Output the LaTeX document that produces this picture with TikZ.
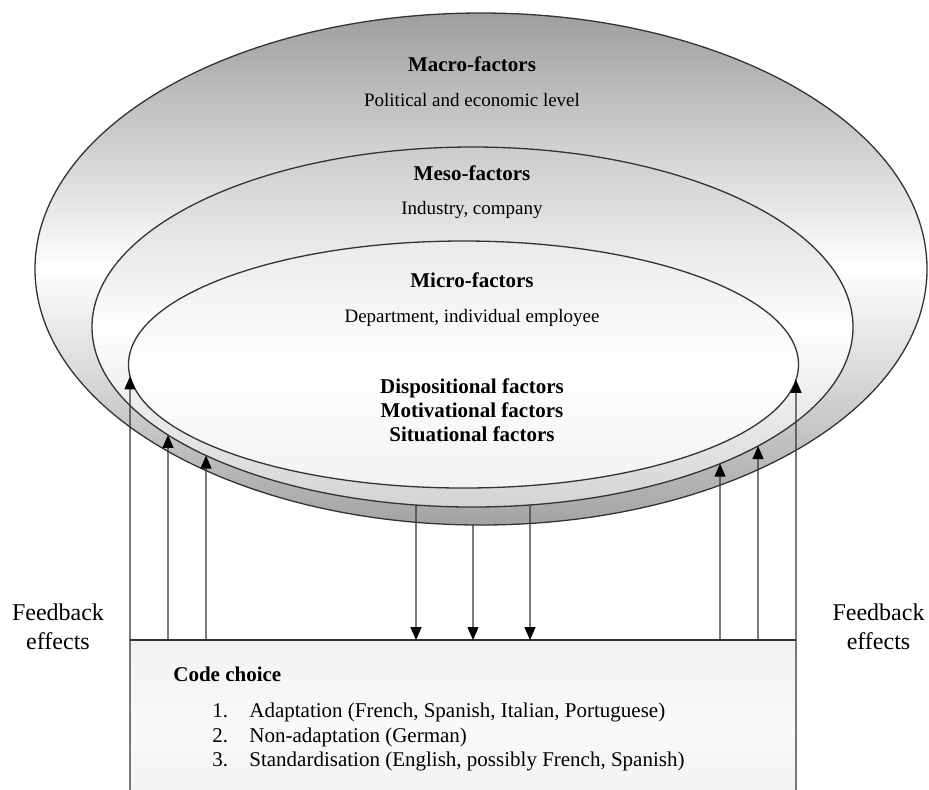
\documentclass[tikz,border=0pt]{standalone}
\usepackage{fontspec}
\setmainfont{Liberation Serif}
\usetikzlibrary{arrows.meta,intersections}

\definecolor{edge}{gray}{0.2}
\definecolor{outertone}{gray}{0.62}
\definecolor{outerlow}{gray}{0.64}
\definecolor{midtone}{gray}{0.80}
\definecolor{midlow}{gray}{0.83}
\definecolor{innertone}{gray}{0.92}
\definecolor{innerlow}{gray}{0.95}
\definecolor{boxtop}{gray}{0.95}
\definecolor{boxlow}{gray}{0.94}

\begin{document}
\begin{tikzpicture}[x=0.5pt,y=-0.5pt,
  ring/.style={draw=edge, line width=0.65pt},
  head/.style={font=\bfseries\fontsize{10.5}{12}\selectfont, anchor=base, inner sep=0pt},
  sub/.style={font=\fontsize{9.5}{11}\selectfont, anchor=base, inner sep=0pt},
  item/.style={font=\fontsize{10.5}{12}\selectfont, anchor=base west, inner sep=0pt},
  feed/.style={font=\fontsize{12}{14.5}\selectfont, align=center, anchor=base, inner sep=0pt},
  link/.style={draw=edge, line width=0.65pt, -{Triangle[length=6.5pt,width=5.5pt,color=black]}},
  codebox/.style={anchor=north west, inner sep=0pt, outer sep=0pt,
    minimum width=333pt, minimum height=90pt,
    top color=boxtop, bottom color=boxlow, middle color=white!98!black},
]
\useasboundingbox (0,0) rectangle (929,789);
\clip (0,0) rectangle (929,789);

% nested levels of factors
\path[ring, name path=outer, top color=outertone, bottom color=outerlow, middle color=white]
  (481,269) ellipse [x radius=446, y radius=256];
\path[ring, name path=mid, top color=midtone, bottom color=midlow, middle color=white]
  (472.5,327) ellipse [x radius=380.5, y radius=180];
\path[ring, name path=inner, top color=innertone, bottom color=innerlow, middle color=white]
  (463.5,364.5) ellipse [x radius=335, y radius=123.5];

% labels of the levels
\node[head] (macro) at (472,71) {Macro-factors};
\node[sub]  (macrosub) at (472,106) {Political and economic level};
\node[head] (meso) at (472,180) {Meso-factors};
\node[sub]  (mesosub) at (472,214) {Industry, company};
\node[head] (micro) at (472,287) {Micro-factors};
\node[sub]  (microsub) at (472,322) {Department, individual employee};
\node[head] (disp) at (472,393) {Dispositional factors};
\node[head] (motiv) at (472,417) {Motivational factors};
\node[head] (situ) at (472,441) {Situational factors};

% code choice box
\node[codebox] (box) at (130,640) {};
\draw[edge, line width=0.65pt] (box.north west) -- (box.north east);
\node[head, anchor=base west] (codechoice) at (173,681) {Code choice};
\node[item] (n1) at (212,717) {1.};
\node[item] (i1) at (249,717) {Adaptation (French, Spanish, Italian, Portuguese)};
\node[item] (n2) at (212,742) {2.};
\node[item] (i2) at (249,742) {Non-adaptation (German)};
\node[item] (n3) at (212,766) {3.};
\node[item] (i3) at (249,766) {Standardisation (English, possibly French, Spanish)};

% feedback labels
\node[feed] (fbleft) at (58,649) {Feedback\\effects};
\node[feed] (fbright) at (878.5,649) {Feedback\\effects};

% feet of the arrows on the box
\coordinate (u2) at (168,640);
\coordinate (u3) at (206,640);
\coordinate (u4) at (720,640);
\coordinate (u5) at (758,640);
\coordinate (d1) at (416,640);
\coordinate (d2) at (473,640);
\coordinate (d3) at (530,640);

% where the arrows meet the rings
\path[name path=v1] (130,789) -- (130,366);
\path[name path=v2] (168,640) -- (168,330);
\path[name path=v3] (206,640) -- (206,330);
\path[name path=v4] (720,640) -- (720,330);
\path[name path=v5] (758,640) -- (758,330);
\path[name path=v6] (796,789) -- (796,366);
\path[name path=w1] (416,640) -- (416,400);
\path[name path=w2] (473,640) -- (473,400);
\path[name path=w3] (530,640) -- (530,400);
\path[name intersections={of=inner and v1, by=t1}];
\path[name intersections={of=mid and v2, by=t2}];
\path[name intersections={of=mid and v3, by=t3}];
\path[name intersections={of=mid and v4, by=t4}];
\path[name intersections={of=mid and v5, by=t5}];
\path[name intersections={of=inner and v6, by=t6}];
\path[name intersections={of=mid and w1, by=s1}];
\path[name intersections={of=outer and w2, by=s2}];
\path[name intersections={of=mid and w3, by=s3}];

% feedback effects (upwards)
\draw[link] (box.south west) -- (t1);
\draw[link] (u2) -- (t2);
\draw[link] (u3) -- (t3);
\draw[link] (u4) -- (t4);
\draw[link] (u5) -- (t5);
\draw[link] (box.south east) -- (t6);

% influence on code choice (downwards)
\draw[link] (s1) -- (d1);
\draw[link] (s2) -- (d2);
\draw[link] (s3) -- (d3);
\end{tikzpicture}
\end{document}
